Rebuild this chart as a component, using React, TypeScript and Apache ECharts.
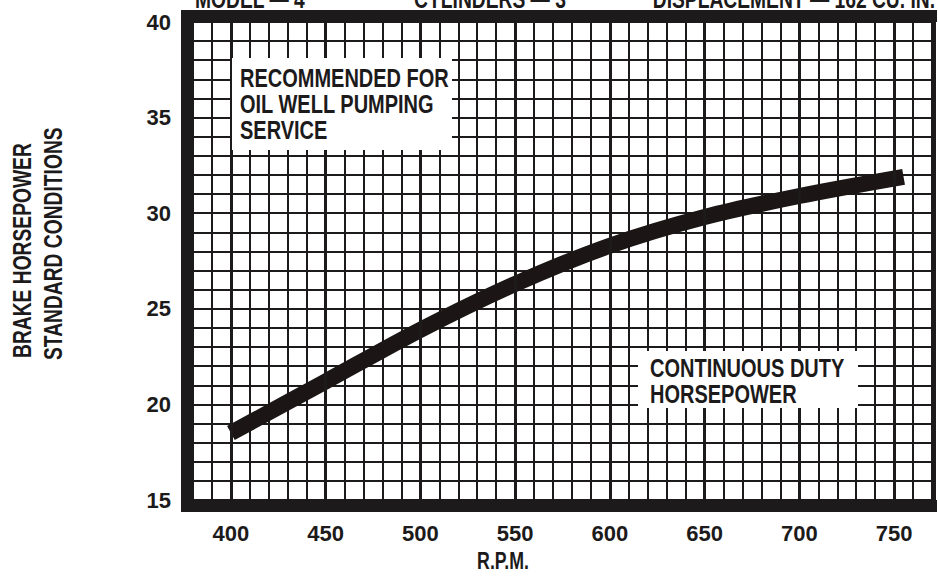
import React, { useEffect, useRef } from "react";
import * as echarts from "echarts";

const rpm = [400, 450, 500, 550, 600, 650, 700, 755];
const brakeHp = [18.5, 21.2, 23.9, 26.3, 28.3, 29.8, 30.9, 31.9];
const majorRpm = [400, 450, 500, 550, 600, 650, 700, 750];
const boxOneLines = ["RECOMMENDED FOR", "OIL WELL PUMPING", "SERVICE"];
const boxTwoLines = ["CONTINUOUS DUTY", "HORSEPOWER"];
const headerTexts = ["MODEL — 4", "CYLINDERS — 3", "DISPLACEMENT — 162 CU. IN."];

const FONT = "'Liberation Sans', Arial, sans-serif";
const INK = "#1c1a1a";
const SQUEEZE = 0.77;

export default function App() {
  const ref = useRef<HTMLDivElement>(null);
  useEffect(() => {
    if (!ref.current) return;
    const chart = echarts.init(ref.current, undefined, { renderer: "svg" });
    const textStyle = (extra: any) => ({
      fill: INK,
      fontFamily: FONT,
      fontWeight: "bold",
      fontSize: 25,
      ...extra,
    });
    const lineTexts = (lines: string[], x: number, y0: number, pitch: number) =>
      lines.map((t, i) => ({
        type: "text",
        z: 51,
        x,
        y: y0 + i * pitch,
        scaleX: 0.8,
        style: textStyle({ text: t, verticalAlign: "top", align: "left" }),
      }));
    chart.setOption({
      animation: false,
      backgroundColor: "#ffffff",
      grid: { left: 193, right: 6, top: 22, bottom: 76 },
      xAxis: {
        type: "value",
        min: 380,
        max: 770,
        interval: 10,
        axisLine: { show: false },
        axisTick: { show: false },
        splitLine: { show: true, lineStyle: { color: INK, width: 2 } },
        axisLabel: {
          margin: 22,
          color: INK,
          fontFamily: FONT,
          fontWeight: "bold",
          fontSize: 22,
          formatter: (v: number) => (v % 50 === 0 ? String(v) : ""),
        },
      },
      yAxis: {
        type: "value",
        min: 15,
        max: 40,
        interval: 1,
        axisLine: { show: false },
        axisTick: { show: false },
        splitLine: { show: true, lineStyle: { color: INK, width: 2 } },
        axisLabel: {
          margin: 22,
          color: INK,
          fontFamily: FONT,
          fontWeight: "bold",
          fontSize: 22,
          formatter: (v: number) => (v % 5 === 0 ? String(v) : ""),
        },
      },
      series: [
        {
          type: "line",
          data: [],
          z: 1,
          markLine: {
            silent: true,
            symbol: "none",
            label: { show: false },
            lineStyle: { type: "solid", width: 3, color: INK },
            data: majorRpm.map((v) => ({ xAxis: v })),
          },
        },
        {
          type: "line",
          z: 3,
          smooth: 0.3,
          symbol: "none",
          data: rpm.map((r, i) => [r, brakeHp[i]]),
          lineStyle: { width: 16, color: "#1b1515", cap: "butt" },
        },
      ],
      graphic: [
        // frame
        { type: "rect", z: 60, shape: { x: 181, y: 10, width: 12, height: 502 }, style: { fill: INK } },
        { type: "rect", z: 60, shape: { x: 181, y: 10, width: 756, height: 12 }, style: { fill: INK } },
        { type: "rect", z: 60, shape: { x: 181, y: 500, width: 756, height: 12 }, style: { fill: INK } },
        { type: "rect", z: 60, shape: { x: 931, y: 10, width: 5, height: 502 }, style: { fill: INK } },
        // annotation boxes
        { type: "rect", z: 50, shape: { x: 232, y: 58, width: 220, height: 92 }, style: { fill: "#ffffff" } },
        ...lineTexts(boxOneLines, 240, 66, 26),
        { type: "rect", z: 50, shape: { x: 638, y: 351, width: 220, height: 57 }, style: { fill: "#ffffff" } },
        ...lineTexts(boxTwoLines, 650, 356, 26),
        // axis titles
        {
          type: "text", z: 51, x: 503, y: 561, scaleX: SQUEEZE,
          style: textStyle({ text: "R.P.M.", fontSize: 23, align: "center", verticalAlign: "middle" }),
        },
        {
          type: "text", z: 51, x: 23, y: 358, rotation: Math.PI / 2, scaleX: SQUEEZE,
          style: textStyle({ text: "BRAKE HORSEPOWER", align: "left", verticalAlign: "middle" }),
        },
        {
          type: "text", z: 51, x: 54, y: 360, rotation: Math.PI / 2, scaleX: SQUEEZE,
          style: textStyle({ text: "STANDARD CONDITIONS", align: "left", verticalAlign: "middle" }),
        },
        // header (cut off at the top of the scan)
        {
          type: "text", z: 51, x: 195, y: 12, scaleX: SQUEEZE,
          style: textStyle({ text: headerTexts[0], align: "left", verticalAlign: "bottom" }),
        },
        {
          type: "text", z: 51, x: 490, y: 12, scaleX: SQUEEZE,
          style: textStyle({ text: headerTexts[1], align: "center", verticalAlign: "bottom" }),
        },
        {
          type: "text", z: 51, x: 935, y: 12, scaleX: SQUEEZE,
          style: textStyle({ text: headerTexts[2], align: "right", verticalAlign: "bottom" }),
        },
      ],
    });
    return () => chart.dispose();
  }, []);
  return <div ref={ref} style={{ width: 938, height: 576, position: "absolute", left: 0, top: 0 }} />;
}
